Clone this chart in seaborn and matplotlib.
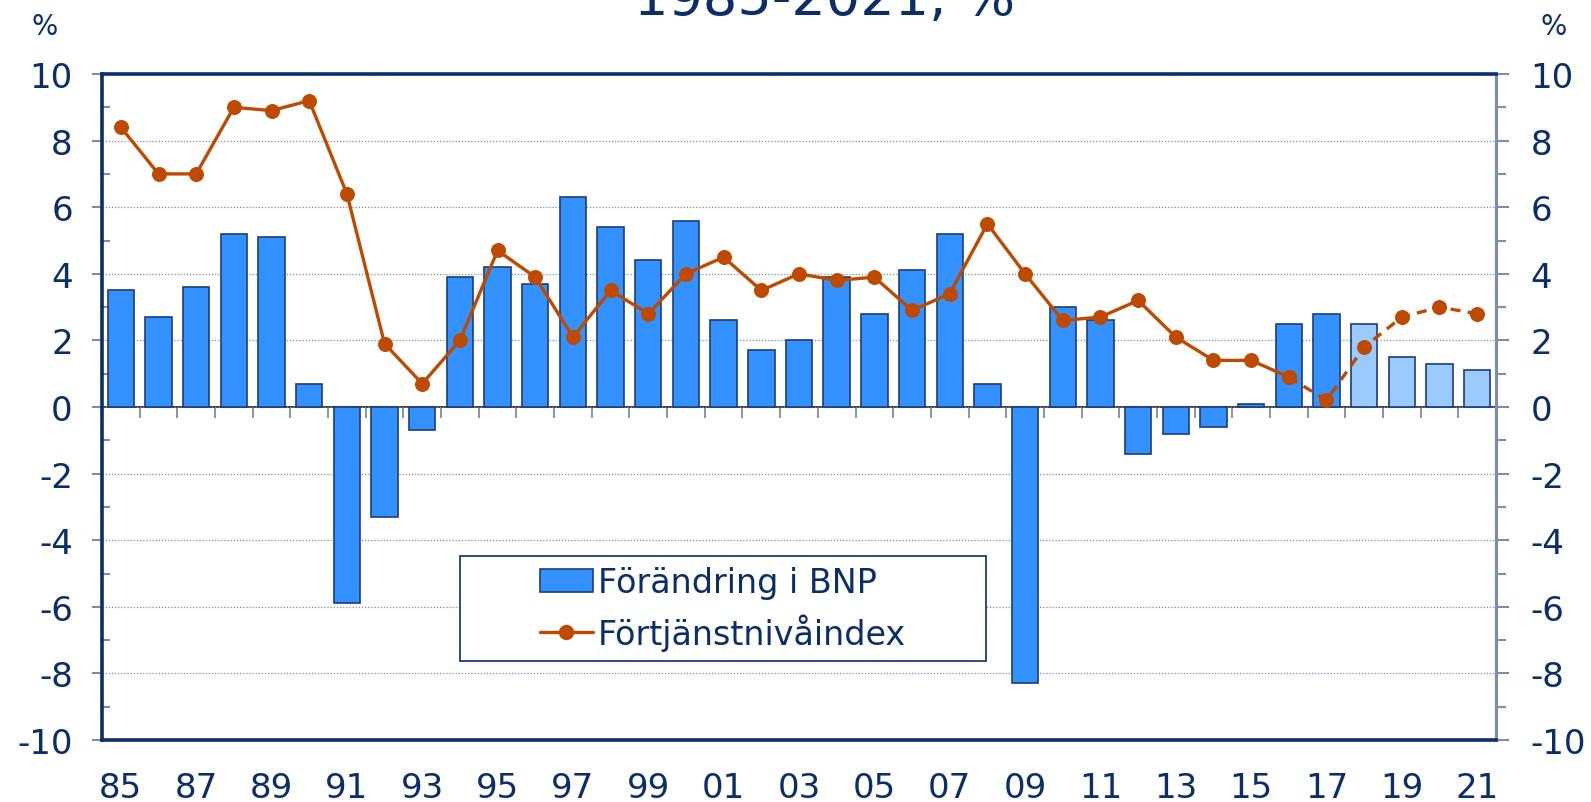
import numpy as np
import matplotlib
matplotlib.use("Agg")
import matplotlib.pyplot as plt
import seaborn as sns
from matplotlib.patches import Patch, Rectangle
from matplotlib.lines import Line2D
from matplotlib.ticker import MultipleLocator

# data
years = [str(y) for y in range(1985, 2022)]
year_labels = [y[2:] for y in years]
bnp = [3.5, 2.7, 3.6, 5.2, 5.1, 0.7, -5.9, -3.3, -0.7, 3.9,
       4.2, 3.7, 6.3, 5.4, 4.4, 5.6, 2.6, 1.7, 2.0, 3.9,
       2.8, 4.1, 5.2, 0.7, -8.3, 3.0, 2.6, -1.4, -0.8, -0.6,
       0.1, 2.5, 2.8, 2.5, 1.5, 1.3, 1.1]
fni = [8.4, 7.0, 7.0, 9.0, 8.9, 9.2, 6.4, 1.9, 0.7, 2.0,
       4.7, 3.9, 2.1, 3.5, 2.8, 4.0, 4.5, 3.5, 4.0, 3.8,
       3.9, 2.9, 3.4, 5.5, 4.0, 2.6, 2.7, 3.2, 2.1, 1.4,
       1.4, 0.9, 0.2, 1.8, 2.7, 3.0, 2.8]
first_forecast_bar = "2018"   # light bars from here
first_dashed_year = "2016"    # dashed line from here

NAVY = "#0B2E6B"
GREY = "#7D8CA8"
BLUE = "#3392FF"
LIGHT = "#9ACBFF"
RUST = "#BE4A00"

sns.set_theme(style="white")
plt.rcParams["font.family"] = ["DejaVu Sans"]
plt.rcParams["axes.unicode_minus"] = False

fig = plt.figure(figsize=(15.91, 8.03), dpi=100)
ax = fig.add_axes([102 / 1591, 1 - 741 / 803, 1394 / 1591, 666 / 803])

fc = years.index(first_forecast_bar)
bar_colors = [BLUE if i < fc else LIGHT for i in range(len(years))]
sns.barplot(x=years, y=bnp, hue=years, palette=bar_colors, legend=False,
            width=0.7, saturation=1, edgecolor="#1F3C7A", linewidth=1.2,
            ax=ax, zorder=3)

pos = np.arange(len(years))
dc = years.index(first_dashed_year)
sns.lineplot(x=pos[:dc + 1], y=fni[:dc + 1], color=RUST, linewidth=2.4,
             marker="o", markersize=10, markeredgecolor=RUST, ax=ax, zorder=5)
sns.lineplot(x=pos[dc:], y=fni[dc:], color=RUST, linewidth=2.4,
             marker="o", markersize=10, markeredgecolor=RUST, ax=ax, zorder=5)
ax.lines[-1].set_linestyle((0, (3, 2.2)))

ax.set_xlim(-0.5, len(years) - 0.5)
ax.set_ylim(-10, 10)
ax.yaxis.set_major_locator(MultipleLocator(2))
ax.yaxis.set_minor_locator(MultipleLocator(1))
ax.set_xticks(pos[::2])
ax.set_xticklabels(year_labels[::2])
ax.set_xlabel("")
ax.set_ylabel("")

ax.grid(axis="y", which="major", color=GREY, linestyle=(0, (1, 1.5)),
        linewidth=0.9, zorder=0)
ax.set_axisbelow(True)

for s in ["left", "top", "bottom"]:
    ax.spines[s].set_color(NAVY)
    ax.spines[s].set_linewidth(2.6)
ax.spines["right"].set_color(GREY)
ax.spines["right"].set_linewidth(2.2)

ax.tick_params(axis="x", length=0, pad=22, labelsize=24.5, labelcolor=NAVY)
ax.tick_params(axis="y", which="major", direction="out", length=7, width=1.5,
               color=GREY, pad=14, labelsize=24.5, labelcolor=NAVY, left=True)
ax.tick_params(axis="y", which="minor", direction="in", length=6, width=1.5,
               color=GREY, left=True)

# right axis mirrors the left one
sec = ax.secondary_yaxis("right")
sec.yaxis.set_major_locator(MultipleLocator(2))
sec.yaxis.set_minor_locator(MultipleLocator(1))
sec.spines["right"].set_color(GREY)
sec.spines["right"].set_linewidth(2.2)
sec.tick_params(which="major", direction="out", length=9, width=1.5,
                color=GREY, pad=16, labelsize=24.5, labelcolor=NAVY)
sec.tick_params(which="minor", direction="out", length=7, width=1.5, color=GREY)

# category axis crossing at zero, ticks between the bars
zx = ax.secondary_xaxis(0.5)
zx.set_xticks(np.arange(-0.5, len(years), 1.0))
zx.set_xticklabels([])
zx.spines["bottom"].set_color(GREY)
zx.spines["bottom"].set_linewidth(1.8)
zx.tick_params(direction="in", length=8, width=1.3, color=GREY)

# legend box, content centred inside it
box = Rectangle((0.257, 0.119), 0.377, 0.157, transform=ax.transAxes,
                facecolor="white", edgecolor=NAVY, linewidth=1.2, zorder=6)
ax.add_patch(box)
handles = [Patch(facecolor=BLUE, edgecolor="#1F3C7A", linewidth=1.2),
           Line2D([], [], color=RUST, linewidth=2.4, marker="o", markersize=10)]
leg = ax.legend(handles, ["Förändring i BNP", "Förtjänstnivåindex"],
                loc="center", bbox_to_anchor=(0.257 + 0.377 / 2, 0.119 + 0.157 / 2),
                fontsize=24, frameon=False, handlelength=1.6,
                handletextpad=0.15, labelspacing=0.42, borderpad=0,
                borderaxespad=0)
leg.set_zorder(7)
for t in leg.get_texts():
    t.set_color(NAVY)

fig.text(0.518, 1 - 15 / 803, "1985-2021, %", ha="center", va="baseline",
         fontsize=39, color=NAVY)
fig.text(45 / 1591, 1 - 35 / 803, "%", ha="center", va="baseline",
         fontsize=20, color=NAVY)
fig.text(1554 / 1591, 1 - 35 / 803, "%", ha="center", va="baseline",
         fontsize=20, color=NAVY)

fig.savefig("out.png", dpi=100)
